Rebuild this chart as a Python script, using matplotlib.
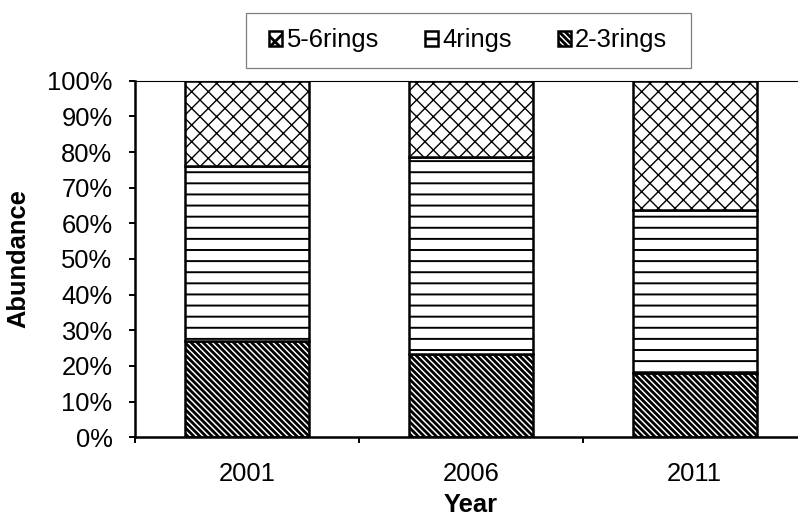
import matplotlib
matplotlib.use("Agg")
import matplotlib.pyplot as plt
from matplotlib.patches import Rectangle
import numpy as np

years = ["2001", "2006", "2011"]
rings_23 = [27.0, 23.4, 17.9]
rings_4 = [49.2, 55.3, 45.9]
rings_56 = [23.8, 21.3, 36.2]
yticks = [0, 10, 20, 30, 40, 50, 60, 70, 80, 90, 100]

plt.rcParams['font.family'] = ['Liberation Sans', 'DejaVu Sans']
FS = 9.2

W, H = 798, 522
DPI = 200
fig = plt.figure(figsize=(W / DPI, H / DPI), dpi=DPI)
ax = fig.add_axes([134.7 / W, (H - 437.3) / H, (806.7 - 134.7) / W, (437.3 - 80.7) / H])

x = np.arange(len(years))
bw = 0.553
b23 = np.array(rings_23)
b4 = np.array(rings_4)
b56 = np.array(rings_56)

with plt.rc_context({'hatch.linewidth': 1.0}):
    h23 = ax.bar(x, b23, bw, color='white', edgecolor='black', linewidth=0.9,
                 hatch='\\' * 11, label='2-3rings')
with plt.rc_context({'hatch.linewidth': 0.7}):
    h4 = ax.bar(x, b4, bw, bottom=b23, color='white', edgecolor='black', linewidth=0.9,
                hatch='---', label='4rings')
with plt.rc_context({'hatch.linewidth': 0.5}):
    h56 = ax.bar(x, b56, bw, bottom=b23 + b4, color='white', edgecolor='black', linewidth=0.9,
                 hatch='xxxx', label='5-6rings')

ax.set_xlim(-0.5, 2.5)
ax.set_ylim(0, 100)
ax.set_yticks(yticks)
ax.set_yticklabels([f"{v}%" for v in yticks], fontsize=FS)
ax.set_xticks(x)
ax.set_xticklabels(years, fontsize=FS)
ax.set_xticks([-0.5, 0.5, 1.5, 2.5], minor=True)
ax.tick_params(axis='x', which='major', length=0, pad=9)
ax.tick_params(axis='x', which='minor', length=2.2, width=0.7, direction='out')
ax.tick_params(axis='y', which='major', length=2.2, width=0.7, direction='out', pad=5.8)

for s in ['left', 'bottom']:
    ax.spines[s].set_linewidth(0.9)
    ax.spines[s].set_color('black')
ax.spines['top'].set_linewidth(0.4)
ax.spines['top'].set_color('black')
ax.spines['right'].set_visible(False)

ax.set_ylabel('Abundance', fontsize=FS, fontweight='bold', labelpad=6)
ax.set_xlabel('Year', fontsize=FS, fontweight='bold', labelpad=2.4)

# legend frame
lx0, lx1, ly0, ly1 = 246, 690.7, 13.3, 67.7
fig.patches.append(Rectangle((lx0 / W, 1 - ly1 / H), (lx1 - lx0) / W, (ly1 - ly0) / H,
                             transform=fig.transFigure, fill=False, edgecolor='#7f7f7f',
                             linewidth=0.45))
leg = fig.legend(handles=[h56, h4, h23], labels=['5-6rings', '4rings', '2-3rings'],
                 loc='center', bbox_to_anchor=((lx0 + lx1) / 2 / W, 1 - (ly0 + ly1) / 2 / H),
                 ncol=3, frameon=False, fontsize=FS, handlelength=0.5, handleheight=0.5,
                 handletextpad=0.18, columnspacing=1.8, borderpad=0)

fig.savefig('out.png', dpi=DPI)
